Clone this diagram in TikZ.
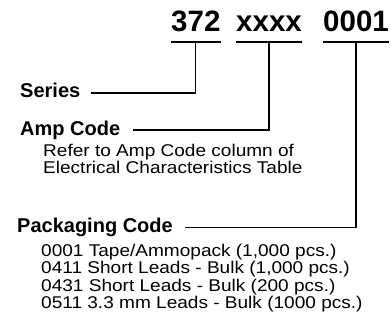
\documentclass[tikz,border=0pt]{standalone}
\usepackage{fontspec}
\setmainfont{Liberation Sans}
\newfontfamily\regfont[FakeStretch=1.12]{Liberation Sans}
\newfontfamily\boldfont{Liberation Sans Bold}
\usetikzlibrary{calc}
\begin{document}
\begin{tikzpicture}[x=1pt,y=-1pt,
  titletext/.style={inner sep=0pt,anchor=base west,font=\boldfont\fontsize{29.5}{30}\selectfont},
  labeltext/.style={inner sep=0pt,anchor=base west,font=\boldfont\fontsize{20}{22}\selectfont},
  bodytext/.style={inner sep=0pt,anchor=base west,font=\regfont\fontsize{17}{17.5}\selectfont},
  uline/.style={line width=2pt},
  conn/.style={line width=1.3pt}]
\useasboundingbox (0,0) rectangle (391,329);
% title
\node[titletext] (t1) at (171,32) {372};
\node[titletext] (t2) at (236,32) {xxxx};
\node[titletext] (t3) at (323,32) {0001};
\foreach \t in {t1,t2,t3}{
  \draw[uline] ($(\t.base west)+(0,10)$) -- ($(\t.base east)+(0,10)$);
}
% labels
\node[labeltext] (series) at (20,98) {Series};
\node[labeltext] (amp) at (20,135) {Amp Code};
\node[labeltext] (pack) at (17,232) {Packaging Code};
% description
\node[bodytext] (r1) at (43,156) {Refer to Amp Code column of};
\node[bodytext] (r2) at (43,173) {Electrical Characteristics Table};
\node[bodytext] (l1) at (41,256) {0001 Tape/Ammopack (1,000 pcs.)};
\node[bodytext] (l2) at (41,273.5) {0411 Short Leads - Bulk (1,000 pcs.)};
\node[bodytext] (l3) at (41,291) {0431 Short Leads - Bulk (200 pcs.)};
\node[bodytext] (l4) at (41,308.5) {0511 3.3 mm Leads - Bulk (1000 pcs.)};
% connectors
\draw[conn] ($(t1.base)+(0,10)$) |- ($(series.base east)+(11,-5)$);
\draw[conn] ($(t2.base)+(0,10)$) |- ($(amp.base east)+(13,-5)$);
\draw[conn] ($(t3.base)+(0,10)$) |- ($(pack.base east)+(12,-4.5)$);
\end{tikzpicture}
\end{document}
